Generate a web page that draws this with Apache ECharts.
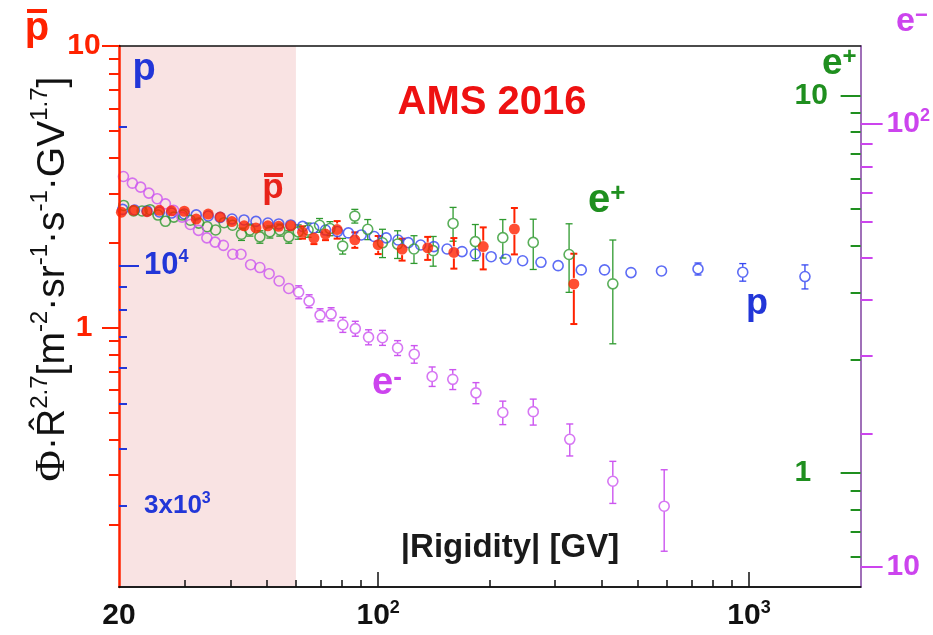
<!DOCTYPE html>
<html>
<head>
<meta charset="utf-8">
<title>AMS 2016</title>
<script src="https://cdn.jsdelivr.net/npm/echarts@6/dist/echarts.min.js"></script>
<style>
html, body { margin: 0; padding: 0; background: #fff; }
#chart { width: 933px; height: 635px; }
</style>
</head>
<body>
<div id="chart"></div>
<script>
// values: rigidity [GV], flux x R^2.7, error

// protons (blue, axis 2000..30000)
var pR = [20.46, 22.03, 23.80, 25.71, 27.70, 30.00, 32.31, 34.80, 37.49, 40.36, 43.47, 46.82, 50.42, 53.95,
          58.09, 62.55, 66.97, 72.11, 77.65, 83.09, 90.03, 97.57, 105.1, 113.1, 120.6, 130.2, 141.3, 153.4,
          168.3, 182.8, 201.7, 220.8, 245.2, 274.8, 305.7, 352.9, 407.8, 480.6, 580.8, 728.6, 962.0, 1415.5];
var pFlux = [13240, 13200, 13140, 13070, 13000, 12940, 12880, 12810, 12720, 12620, 12560, 12470, 12370, 12310,
             12250, 12160, 12060, 11940, 11850, 11770, 11650, 11560, 11480, 11360, 11210, 11080, 10990, 10860,
             10720, 10590, 10450, 10320, 10240, 10160, 9990, 9780, 9780, 9650, 9730, 9830, 9670, 9460];
var pErr = [130, 130, 130, 130, 130, 130, 130, 130, 130, 130, 130, 130, 130, 130,
            130, 130, 130, 130, 130, 130, 130, 130, 130, 130, 130, 130, 130, 130,
            130, 130, 150, 150, 150, 150, 170, 196, 196, 241, 258, 295, 425, 568];

// antiprotons (red, axis 0.12..10)
var pbarR = [20.3, 21.9, 23.8, 25.7, 27.7, 30.0, 32.3, 34.8, 37.5, 40.3, 43.5, 46.8, 50.4, 53.9,
             58.1, 62.5, 67.1, 72.1, 77.5, 86.5, 100, 116, 136, 160, 192, 233, 337];
var pbarFlux = [2.57, 2.61, 2.58, 2.61, 2.60, 2.59, 2.43, 2.53, 2.47, 2.38, 2.30, 2.26, 2.30, 2.29,
                2.30, 2.18, 2.08, 2.15, 2.23, 2.05, 1.97, 1.90, 1.92, 1.85, 1.94, 2.24, 1.43];
var pbarErr = [0.06, 0.06, 0.06, 0.06, 0.06, 0.06, 0.06, 0.06, 0.06, 0.06, 0.08, 0.08, 0.08, 0.08,
               0.09, 0.11, 0.10, 0.105, 0.16, 0.13, 0.145, 0.17, 0.18, 0.23, 0.33, 0.42, 0.40];

// positrons (green, axis 0.5..13.5)
var epR = [20.59, 21.90, 23.08, 24.25, 25.48, 26.68, 28.12, 29.63, 31.14, 32.81, 34.58, 36.44, 38.41,
           40.48, 42.79, 45.10, 47.97, 51.03, 54.29, 57.38, 60.84, 64.71, 69.48, 74.13, 80.21, 86.49,
           93.71, 102.7, 112.8, 124.9, 140.7, 159.2, 182.8, 216.8, 261.9, 327.2, 429.3];
var epFlux = [5.11, 4.94, 4.94, 4.98, 4.82, 4.64, 4.76, 4.82, 4.67, 4.59, 4.49, 4.40, 4.60,
              4.53, 4.29, 4.40, 4.22, 4.35, 4.40, 4.22, 4.35, 4.40, 4.53, 4.44, 3.99, 4.79,
              4.42, 4.07, 4.04, 3.92, 3.88, 4.58, 4.10, 4.20, 4.08, 3.79, 3.17];
var epErr = [0.12, 0.12, 0.12, 0.12, 0.12, 0.12, 0.12, 0.12, 0.14, 0.14, 0.14, 0.14, 0.14,
             0.14, 0.16, 0.16, 0.16, 0.16, 0.16, 0.16, 0.19, 0.19, 0.19, 0.19, 0.19, 0.20,
             0.27, 0.35, 0.34, 0.33, 0.35, 0.47, 0.45, 0.49, 0.62, 0.78, 0.97];

// electrons (violet, axis 9..150)
var emR = [20.56, 21.73, 22.87, 24.07, 25.35, 26.68, 28.08, 29.58, 31.14, 32.77, 34.51, 36.33, 38.24,
           40.54, 42.66, 45.29, 47.97, 50.81, 54.06, 57.38, 61.03, 65.13, 69.70, 74.66, 80.30, 86.75,
           94.19, 102.7, 112.8, 125.1, 139.8, 158.9, 183.5, 216.8, 261.9, 328.6, 429.3, 590.6];
var emFlux = [76.1, 73.5, 72.0, 69.8, 67.8, 66.0, 63.8, 61.6, 59.3, 57.5, 55.3, 54.1, 53.2,
              50.8, 50.8, 48.1, 47.4, 45.9, 44.2, 42.5, 41.7, 39.8, 37.0, 37.2, 35.2, 34.5,
              33.0, 32.9, 31.2, 30.2, 26.9, 26.5, 24.7, 22.3, 22.4, 19.4, 15.6, 13.7];
var emErr = [1.19, 1.14, 1.12, 1.09, 1.06, 1.03, 0.99, 0.96, 0.92, 0.90, 1.15, 1.12, 1.10,
             1.05, 1.05, 1.25, 1.23, 1.19, 1.15, 1.10, 1.41, 1.34, 1.25, 1.26, 1.37, 1.34,
             1.29, 1.28, 1.21, 1.38, 1.36, 1.37, 1.35, 1.36, 1.51, 1.61, 1.70, 2.86];

// axis ranges and ticks
var xRange = [20, 2000];
var xMajor = [100, 1000];
var xMinor = [30, 40, 50, 60, 70, 80, 90, 200, 300, 400, 500, 600, 700, 800, 900];
var xLabels = [20, 100, 1000];
var shadeRange = [20, 60];

var pbarRange = [0.12, 10];
var pbarMajor = [1, 10];
var pbarMinor = [0.2, 0.3, 0.4, 0.5, 0.6, 0.7, 0.8, 0.9, 2, 3, 4, 5, 6, 7, 8, 9];

var pRange = [2000, 30000];
var pMajor = [10000];
var pMinor = [3000, 4000, 5000, 6000, 7000, 8000, 9000, 20000];
var pLabels = [3000, 10000];

var epRange = [0.5, 13.5];
var epMajor = [1, 10];
var epMinor = [0.6, 0.7, 0.8, 0.9, 2, 3, 4, 5, 6, 7, 8, 9];

var emRange = [9, 150];
var emMajor = [10, 100];
var emMinor = [20, 30, 40, 50, 60, 70, 80, 90];

var RED = '#ff2200', BLUE = '#2236d8', GREEN = '#1f8f1f', VIOLET = '#cc44ee';
var FONT = '"Liberation Sans", Arial, sans-serif';

function L(v) { return Math.log(v) / Math.LN10; }
function logs(arr) { return arr.map(L); }
function num(v) { return Math.round(Math.pow(10, v) * 1000) / 1000; }

function yAxisOf(o) {
    return {
        type: 'value', position: o.pos, min: L(o.range[0]), max: L(o.range[1]), z: 5,
        axisLine: { show: !!o.line, onZero: false, lineStyle: { color: o.line, width: o.lineWidth || 2 } },
        axisTick: { show: true, inside: o.inside, length: o.len, customValues: logs(o.ticks),
                    lineStyle: { color: o.color, width: 2 } },
        axisLabel: o.label || { show: false },
        splitLine: { show: false }
    };
}

function xAxisOf(ticks, len, label) {
    return {
        type: 'value', position: 'bottom', min: L(xRange[0]), max: L(xRange[1]), z: 5,
        axisLine: { show: true, onZero: false, lineStyle: { color: '#111', width: 1.5 } },
        axisTick: { show: true, inside: true, length: len, customValues: logs(ticks),
                    lineStyle: { color: '#111', width: 1.5 } },
        axisLabel: label || { show: false },
        splitLine: { show: false }
    };
}

// error bar, left open where the marker sits
function errorBars(color, width, gap, cap) {
    return function (params, api) {
        var x = api.value(0);
        var lo = api.coord([x, api.value(1)]);
        var hi = api.coord([x, api.value(2)]);
        var mid = api.coord([x, api.value(3)]);
        var st = { stroke: color, lineWidth: width };
        var kids = [];
        if (lo[1] - mid[1] > gap) {
            kids.push({ type: 'line', shape: { x1: lo[0], y1: lo[1], x2: lo[0], y2: mid[1] + gap }, style: st });
            kids.push({ type: 'line', shape: { x1: lo[0] - cap, y1: lo[1], x2: lo[0] + cap, y2: lo[1] }, style: st });
        }
        if (mid[1] - hi[1] > gap) {
            kids.push({ type: 'line', shape: { x1: hi[0], y1: hi[1], x2: hi[0], y2: mid[1] - gap }, style: st });
            kids.push({ type: 'line', shape: { x1: hi[0] - cap, y1: hi[1], x2: hi[0] + cap, y2: hi[1] }, style: st });
        }
        return { type: 'group', children: kids };
    };
}

function dataSeries(rs, vals, errs, yIdx, color, filled, size, barWidth) {
    var pts = [], bars = [];
    for (var i = 0; i < rs.length; i++) {
        pts.push([L(rs[i]), L(vals[i])]);
        bars.push([L(rs[i]), L(vals[i] - errs[i]), L(vals[i] + errs[i]), L(vals[i])]);
    }
    return [
        { type: 'custom', yAxisIndex: yIdx, data: bars, z: 3, encode: { x: 0, y: 3 },
          renderItem: errorBars(color, barWidth, size / 2 + 0.5, 3.5) },
        { type: 'scatter', yAxisIndex: yIdx, data: pts, symbol: 'circle', symbolSize: size, z: 4,
          itemStyle: filled ? { color: color } : { color: 'rgba(255,255,255,0)', borderColor: color, borderWidth: 1.6 } }
    ];
}

var chart = echarts.init(document.getElementById('chart'));

var xAxes = [
    xAxisOf(xMinor, 7),
    xAxisOf(xMajor, 15, {
        show: true, customValues: logs(xLabels), margin: 12, color: '#111',
        formatter: function (v) {
            var n = Math.round(num(v));
            if (n === 100) return '{n|10}{s|2}';
            if (n === 1000) return '{n|10}{s|3}';
            return '{n|' + n + '}';
        },
        rich: {
            n: { fontSize: 30, fontWeight: 'bold', fontFamily: FONT, color: '#111', lineHeight: 34 },
            s: { fontSize: 18, fontWeight: 'bold', fontFamily: FONT, color: '#111', verticalAlign: 'top', lineHeight: 18 }
        }
    }),
    {   // top frame line
        type: 'value', position: 'top', min: L(xRange[0]), max: L(xRange[1]), z: 5,
        axisLine: { show: true, onZero: false, lineStyle: { color: '#111', width: 1.5 } },
        axisTick: { show: false }, axisLabel: { show: false }, splitLine: { show: false }
    }
];

var yAxes = [
    // 0, 1 : antiproton scale on the left
    yAxisOf({ pos: 'left', range: pbarRange, line: RED, lineWidth: 2.5, inside: false, len: 17, color: RED, ticks: pbarMajor,
        label: { show: true, customValues: logs(pbarMajor), align: 'center', margin: 35,
                 color: RED, fontSize: 30, fontWeight: 'bold', fontFamily: FONT,
                 formatter: function (v) { return String(Math.round(num(v))); } } }),
    yAxisOf({ pos: 'left', range: pbarRange, inside: false, len: 10, color: RED, ticks: pbarMinor }),
    // 2, 3 : proton scale, ticks inside
    yAxisOf({ pos: 'left', range: pRange, inside: true, len: 20, color: BLUE, ticks: pMajor,
        label: { show: true, inside: true, customValues: logs(pLabels), margin: 25, color: BLUE,
                 formatter: function (v) {
                     return Math.round(num(v)) === 10000 ? '{b|10}{bs|4}' : '{c|3x10}{cs|3}';
                 },
                 rich: {
                     b: { fontSize: 31, fontWeight: 'bold', fontFamily: FONT, color: BLUE, lineHeight: 34 },
                     bs: { fontSize: 18, fontWeight: 'bold', fontFamily: FONT, color: BLUE, verticalAlign: 'top', lineHeight: 18 },
                     c: { fontSize: 26, fontWeight: 'bold', fontFamily: FONT, color: BLUE, lineHeight: 30 },
                     cs: { fontSize: 16, fontWeight: 'bold', fontFamily: FONT, color: BLUE, verticalAlign: 'top', lineHeight: 16 }
                 } } }),
    yAxisOf({ pos: 'left', range: pRange, inside: true, len: 8, color: BLUE, ticks: pMinor }),
    // 4, 5 : positron scale on the right, ticks inside
    yAxisOf({ pos: 'right', range: epRange, inside: true, len: 20, color: GREEN, ticks: epMajor,
        label: { show: true, inside: true, customValues: logs(epMajor), align: 'left', margin: 66,
                 color: GREEN, fontSize: 30, fontWeight: 'bold', fontFamily: FONT,
                 formatter: function (v) { return String(Math.round(num(v))); } } }),
    yAxisOf({ pos: 'right', range: epRange, inside: true, len: 10, color: GREEN, ticks: epMinor }),
    // 6, 7 : electron scale on the right, ticks outside
    yAxisOf({ pos: 'right', range: emRange, line: '#a070b8', lineWidth: 2, inside: false, len: 22, color: VIOLET, ticks: emMajor,
        label: { show: true, customValues: logs(emMajor), margin: 26, color: VIOLET,
                 formatter: function (v) {
                     return Math.round(num(v)) === 100 ? '{v|10}{vs|2}' : '{v|10}';
                 },
                 rich: {
                     v: { fontSize: 30, fontWeight: 'bold', fontFamily: FONT, color: VIOLET, lineHeight: 34 },
                     vs: { fontSize: 18, fontWeight: 'bold', fontFamily: FONT, color: VIOLET, verticalAlign: 'top', lineHeight: 18 }
                 } } }),
    yAxisOf({ pos: 'right', range: emRange, inside: false, len: 12, color: VIOLET, ticks: emMinor })
];

var series = [
    {   // shaded band 20-60 GV
        type: 'scatter', yAxisIndex: 0, data: [],
        markArea: { silent: true, itemStyle: { color: '#f9e3e3' },
                    data: [[{ xAxis: L(shadeRange[0]) }, { xAxis: L(shadeRange[1]) }]] }
    }
];
series = series.concat(
    dataSeries(pR, pFlux, pErr, 2, '#3547f2', false, 10, 1.3),
    dataSeries(epR, epFlux, epErr, 4, '#2f9a2f', false, 10, 1.3),
    dataSeries(emR, emFlux, emErr, 6, '#cc55f0', false, 10, 1.4),
    dataSeries(pbarR, pbarFlux, pbarErr, 0, RED, true, 11, 2)
);

function label(x, y, text, size, color, align, rich) {
    return { type: 'text', x: x, y: y, z: 10,
             style: { text: text, fill: color, fontSize: size, fontWeight: 'bold', fontFamily: FONT,
                      align: align || 'center', verticalAlign: 'middle', rich: rich } };
}
function supRich(size, sup, color) {
    return {
        m: { fontSize: size, fontWeight: 'bold', fontFamily: FONT, fill: color, color: color, lineHeight: size },
        s: { fontSize: sup, fontWeight: 'bold', fontFamily: FONT, fill: color, color: color, verticalAlign: 'top', lineHeight: sup }
    };
}

var titleRich = {
    f: { fontSize: 43, fontFamily: '"Liberation Serif", serif', fill: '#111', lineHeight: 50 },
    m: { fontSize: 39, fontFamily: FONT, fill: '#111', lineHeight: 50 },
    s: { fontSize: 24, fontFamily: FONT, fill: '#111', verticalAlign: 'top', lineHeight: 24 }
};

var graphics = [
    label(37, 29, 'p', 40, RED),
    { type: 'rect', z: 10, shape: { x: 27, y: 9, width: 20, height: 4 }, style: { fill: RED } },
    label(144, 70, 'p', 38, BLUE),
    label(492, 103, 'AMS 2016', 40, '#ee1111'),
    label(273, 188, 'p', 35, '#e8231a'),
    { type: 'rect', z: 10, shape: { x: 264, y: 173, width: 19, height: 4 }, style: { fill: '#e8231a' } },
    label(588, 201, '{m|e}{s|+}', 40, GREEN, 'left', supRich(40, 26, GREEN)),
    label(757, 304, 'p', 36, BLUE),
    label(372, 384, '{m|e}{s|-}', 38, VIOLET, 'left', supRich(38, 26, VIOLET)),
    label(822, 64, '{m|e}{s|+}', 37, GREEN, 'left', supRich(37, 24, GREEN)),
    label(896, 22, '{m|e}{s|\u2212}', 34, VIOLET, 'left', supRich(34, 22, VIOLET)),
    label(510, 548, '|Rigidity| [GV]', 33, '#1a1a1a'),
    { type: 'text', x: 53, y: 279, rotation: Math.PI / 2, z: 10,
      style: { text: '{f|\u03A6}{m|\u00B7R\u0302}{s|2.7}{m|[m}{s|-2}{m|\u00B7sr}{s|-1}{m|\u00B7s}{s|-1}{m|\u00B7GV}{s|1.7}{m|]}',
               rich: titleRich, fill: '#111', align: 'center', verticalAlign: 'middle' } }
];

chart.setOption({
    animation: false,
    backgroundColor: '#fff',
    grid: { left: 119, right: 69, top: 46, bottom: 48, containLabel: false },
    xAxis: xAxes,
    yAxis: yAxes,
    series: series,
    graphic: graphics
});
</script>
</body>
</html>
